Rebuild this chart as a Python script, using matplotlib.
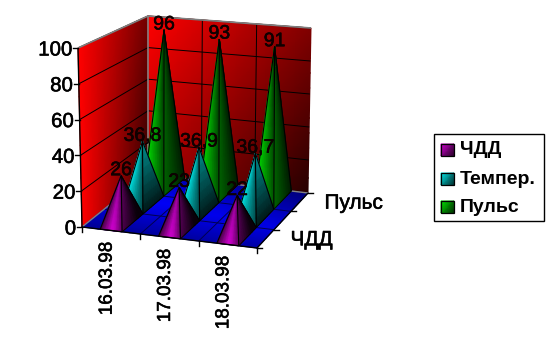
import numpy as np
import matplotlib
matplotlib.use("Agg")
import matplotlib.pyplot as plt
import matplotlib.patheffects as pe
from matplotlib.colors import LinearSegmentedColormap
from matplotlib.patches import Rectangle

plt.rcParams["font.family"] = ["Liberation Sans", "DejaVu Sans"]

# Data
categories = ["16.03.98", "17.03.98", "18.03.98"]
series_names = ["ЧДД", "Темпер.", "Пульс"]
chdd = [26, 23, 22]
temper = [36.8, 36.9, 36.7]
pulse = [96, 93, 91]
value_labels = [
    ["26", "23", "22"],
    ["36,8", "36,9", "36,7"],
    ["96", "93", "91"],
]
value_ticks = [0, 20, 40, 60, 80, 100]
depth_labels = ["ЧДД", None, "Пульс"]

ZMAX = 100.0

# Box corners in pixels: (x, depth, height)
P000 = np.array([82, 227.0])
P100 = np.array([257, 248.0])
P010 = np.array([148, 174.0])
P110 = np.array([308, 193.0])
P001 = np.array([78, 48.0])
P101 = np.array([260, 62.0])
P011 = np.array([148, 16.0])
P111 = np.array([311, 28.0])

# Slight stroke to get the heavy look of the old screen font
HEAVY = [pe.withStroke(linewidth=0.4, foreground="black")]


def proj(u, v, z):
    """Trilinear map of box coordinates to picture pixels."""
    w = np.asarray(z, dtype=float) / ZMAX
    u = np.asarray(u, dtype=float)
    v = np.asarray(v, dtype=float)
    out = []
    for k in range(2):
        val = (
            (1 - u) * (1 - v) * (1 - w) * P000[k]
            + u * (1 - v) * (1 - w) * P100[k]
            + (1 - u) * v * (1 - w) * P010[k]
            + u * v * (1 - w) * P110[k]
            + (1 - u) * (1 - v) * w * P001[k]
            + u * (1 - v) * w * P101[k]
            + (1 - u) * v * w * P011[k]
            + u * v * w * P111[k]
        )
        out.append(val)
    return out[0], out[1]


def ramp(name, color):
    return LinearSegmentedColormap.from_list(name, ["#000000", color])


red_map = ramp("wall", "#ff0000")
blue_map = ramp("floor", "#0000ff")
series_maps = [
    ramp("chdd", "#d800d8"),
    ramp("temper", "#00f4f4"),
    ramp("pulse", "#00f000"),
]


def line3d(ax, a, b, **kw):
    x, y = proj([a[0], b[0]], [a[1], b[1]], [a[2], b[2]])
    ax.plot(x, y, solid_capstyle="butt", **kw)


def draw_box(ax):
    # left wall
    v, z = np.meshgrid(np.linspace(0, 1, 12), np.linspace(0, ZMAX, 12))
    x, y = proj(np.zeros_like(v), v, z)
    shade = 1.0 - 0.55 * v - 0.25 * v * (1 - z / ZMAX)
    ax.pcolormesh(x, y, shade, cmap=red_map, vmin=0, vmax=1, shading="gouraud", zorder=1)

    # back wall
    u, z = np.meshgrid(np.linspace(0, 1, 12), np.linspace(0, ZMAX, 12))
    x, y = proj(u, np.ones_like(u), z)
    shade = 1.0 - 0.5 * u - 0.3 * (1 - z / ZMAX) - 0.05 * u * (1 - z / ZMAX)
    shade = np.clip(shade, 0.12, 1)
    ax.pcolormesh(x, y, shade, cmap=red_map, vmin=0, vmax=1, shading="gouraud", zorder=1)

    # floor
    u, v = np.meshgrid(np.linspace(0, 1, 12), np.linspace(0, 1, 12))
    x, y = proj(u, v, np.zeros_like(u))
    shade = 0.55 + 0.45 * np.clip(1 - np.abs(v - 0.5 - 0.25 * (0.5 - u)) * 1.5, 0, 1) - 0.1 * u
    ax.pcolormesh(x, y, shade, cmap=blue_map, vmin=0, vmax=1, shading="gouraud", zorder=2)

    # grid lines
    for t in value_ticks[1:]:
        line3d(ax, (0, 0, t), (0, 1, t), color="black", lw=0.7, zorder=3)
        line3d(ax, (0, 1, t), (1, 1, t), color="black", lw=0.7, zorder=3)
    for i in range(1, len(categories)):
        f = i / len(categories)
        line3d(ax, (f, 1, 0), (f, 1, ZMAX), color="black", lw=0.7, zorder=3)
        line3d(ax, (f, 0, 0), (f, 1, 0), color="#000050", lw=0.7, zorder=3)
    for j in range(1, len(series_names)):
        f = j / len(series_names)
        line3d(ax, (0, f, 0), (1, f, 0), color="#000050", lw=0.7, zorder=3)

    # grey edges
    grey = "#808080"
    line3d(ax, (0, 0, ZMAX), (0, 1, ZMAX), color=grey, lw=1.2, zorder=3)
    line3d(ax, (0, 1, ZMAX), (1, 1, ZMAX), color=grey, lw=1.2, zorder=3)
    line3d(ax, (0, 1, 0), (0, 1, ZMAX), color=grey, lw=1.2, zorder=3)
    line3d(ax, (0, 0, 0), (0, 1, 0), color=grey, lw=1.0, zorder=3)
    line3d(ax, (0, 1, 0), (1, 1, 0), color=grey, lw=1.0, zorder=3)

    # axes lines and ticks
    line3d(ax, (0, 0, 0), (0, 0, ZMAX), color="black", lw=1.0, zorder=3)
    line3d(ax, (0, 0, 0), (1, 0, 0), color="black", lw=1.0, zorder=9)
    line3d(ax, (1, 0, 0), (1, 1, 0), color="black", lw=1.0, zorder=9)
    for t in value_ticks:
        x, y = proj(0.0, 0.0, t)
        ax.plot([x - 5, x], [y, y], color="black", lw=1.0, zorder=9)
        ax.text(x - 6, y, str(t), ha="right", va="center_baseline", fontsize=14.7,
                path_effects=HEAVY, zorder=10)
    for i in range(len(categories) + 1):
        x, y = proj(i / len(categories), 0.0, 0.0)
        ax.plot([x, x], [y, y + 5], color="black", lw=1.0, zorder=9)
    for j in range(len(series_names) + 1):
        x, y = proj(1.0, j / len(series_names), 0.0)
        ax.plot([x, x + 5], [y, y], color="black", lw=1.0, zorder=9)


def draw_cone(ax, cx, vlo, vhi, value, cmap, front_fn, side_fn, zorder):
    hw = 0.0625
    s, t = np.meshgrid(np.linspace(0, 1, 9), np.linspace(0, 1, 9))
    cy = (vlo + vhi) / 2

    # front face, left corner to near corner
    u = (cx - hw + 2 * hw * s) * (1 - t) + cx * t
    v = vlo * (1 - t) + cy * t
    x, y = proj(u, v, value * t)
    ax.pcolormesh(x, y, front_fn(s, t), cmap=cmap, vmin=0, vmax=1, shading="gouraud", zorder=zorder)

    # side face, near corner to far right corner
    u = (cx + hw) * (1 - t) + cx * t
    v = (vlo + (vhi - vlo) * s) * (1 - t) + cy * t
    x, y = proj(u, v, value * t)
    ax.pcolormesh(x, y, side_fn(s, t), cmap=cmap, vmin=0, vmax=1, shading="gouraud", zorder=zorder)

    # outline
    corners = [(cx - hw, vlo), (cx + hw, vlo), (cx + hw, vhi)]
    for cu, cv in corners:
        line3d(ax, (cu, cv, 0), (cx, cy, value), color="black", lw=0.8, zorder=zorder + 0.1)
    line3d(ax, corners[0] + (0,), corners[1] + (0,), color="black", lw=0.6, zorder=zorder + 0.1)
    line3d(ax, corners[1] + (0,), corners[2] + (0,), color="black", lw=0.6, zorder=zorder + 0.1)


def purple_front(s, t):
    return np.clip(0.3 + 0.7 * (1 - np.abs(s - 0.55) * 1.8) * (1 - 0.4 * t), 0.1, 1)


def purple_side(s, t):
    return np.clip(0.5 - 0.4 * s - 0.15 * (1 - t), 0.05, 1)


def cyan_front(s, t):
    return np.clip(1.0 - 0.6 * s - 0.1 * (1 - t), 0, 1)


def cyan_side(s, t):
    return np.clip(0.1 + 0.5 * t, 0, 1)


def green_front(s, t):
    return np.clip((1.0 - 0.65 * s) * (1 - 0.45 * t), 0, 1)


def green_side(s, t):
    return np.clip(0.42 - 0.3 * s, 0, 1)


def draw_series(ax):
    all_values = [chdd, temper, pulse]
    front_fns = [purple_front, cyan_front, green_front]
    side_fns = [purple_side, cyan_side, green_side]
    n_cat = len(categories)
    n_ser = len(series_names)
    for j in reversed(range(n_ser)):
        for i, val in enumerate(all_values[j]):
            cx = (i + 0.5) / n_cat
            vlo, vhi = j / n_ser, (j + 1) / n_ser
            draw_cone(ax, cx, vlo, vhi, val, series_maps[j], front_fns[j], side_fns[j], 5 + (n_ser - j))
            x, y = proj(cx, (vlo + vhi) / 2, val)
            ax.text(x, y - 5, value_labels[j][i], ha="center", va="center",
                    fontsize=14, color="#100000", path_effects=HEAVY, zorder=20)


def draw_labels(ax):
    n_cat = len(categories)
    for i, name in enumerate(categories):
        x, y = proj((i + 0.5) / n_cat, 0.0, 0.0)
        ax.text(x - 4, y + 11, name, rotation=90, ha="center", va="top", fontsize=13.6,
                path_effects=HEAVY, zorder=10)
    n_ser = len(series_names)
    for j, name in enumerate(depth_labels):
        if name is None:
            continue
        x, y = proj(1.0, (j + 0.5) / n_ser, 0.0)
        ax.text(x + 25, y + 1, name, ha="left", va="center", fontsize=15,
                path_effects=HEAVY, zorder=10)


def draw_legend(ax):
    ax.add_patch(Rectangle((434, 134), 110, 87, facecolor="white", edgecolor="black", lw=1.0, zorder=10))
    rows = [150, 179, 207]
    for name, cmap, yc in zip(series_names, series_maps, rows):
        gx, gy = np.meshgrid([441.0, 454.0], [yc - 6.0, yc + 6.0])
        ax.pcolormesh(gx, gy, np.array([[1.0, 0.45], [0.6, 0.15]]), cmap=cmap, vmin=0, vmax=1,
                      shading="gouraud", zorder=11)
        ax.add_patch(Rectangle((441, yc - 6), 13, 12, fill=False, edgecolor="black", lw=0.9, zorder=12))
        ax.text(460, yc, name, ha="left", va="center", fontsize=14, fontweight="bold", zorder=12)


def main():
    fig = plt.figure(figsize=(5.54, 3.55), dpi=100)
    ax = fig.add_axes([0, 0, 1, 1])
    draw_box(ax)
    draw_series(ax)
    draw_labels(ax)
    draw_legend(ax)
    ax.set_xlim(0, 554)
    ax.set_ylim(355, 0)
    ax.axis("off")
    fig.savefig("out.png", dpi=100)


if __name__ == "__main__":
    main()
